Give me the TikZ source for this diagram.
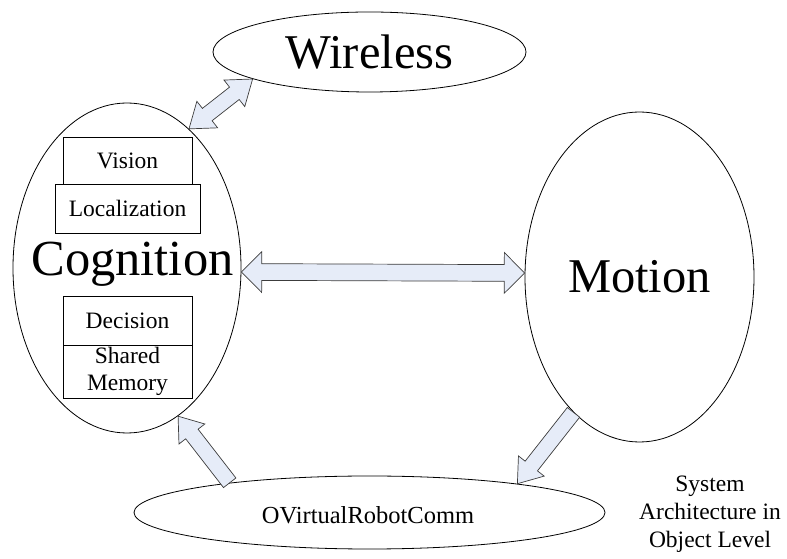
\documentclass[tikz,border=0pt]{standalone}
\usepackage{fontspec}
\setmainfont{Liberation Serif}
\usetikzlibrary{shapes.geometric,shapes.arrows,calc}
\definecolor{arrowfill}{HTML}{E6ECF8}
\definecolor{arrowline}{HTML}{3C3C3C}
\tikzset{
  blob/.style={draw,ellipse,line width=.8pt,inner sep=0pt},
  bigtext/.style={font=\fontsize{48.5}{50}\selectfont},
  part/.style={draw,line width=.8pt,minimum width=129pt,inner sep=0pt,align=center,font=\fontsize{23.5}{27}\selectfont},
  fat/.style={draw=arrowline,fill=arrowfill,line width=.7pt,inner xsep=0pt,outer sep=0pt,sloped,allow upside down},
}
\begin{document}
\begin{tikzpicture}[x=1pt,y=1pt]
\useasboundingbox (0,0) rectangle (787,559);
\node[blob,bigtext,minimum width=313pt,minimum height=80pt] (wls) at (369.5,507) {Wireless};
\node[blob,minimum width=228pt,minimum height=330pt] (cog) at (127,291) {};
\node[blob,bigtext,minimum width=229pt,minimum height=330pt] (mot) at (639.5,282) {Motion};
\node[blob,minimum width=471pt,minimum height=73pt] (orc) at (369.5,46.5) {};
\node[anchor=base,font=\fontsize{50.5}{52}\selectfont] (cogtxt) at (132.5,283) {Cognition};
\node[anchor=base,font=\fontsize{24.5}{27}\selectfont] (orctxt) at (368,35) {OVirtualRobotComm};
% parts of cognition
\node[part,minimum height=47pt] (vis) at (127.5,398.5) {Vision};
\node[part,minimum width=145pt,minimum height=49pt] (loc) at (127.5,350.5) {Localization};
\node[part,minimum height=49pt] (dec) at (127.5,238.5) {Decision};
\node[part,minimum height=53pt] (mem) at (127.5,187.5) {Shared\\Memory};
\node[anchor=base,align=center,font=\fontsize{23.5}{28}\selectfont] (cap) at (710,11) {System\\Architecture in\\Object Level};
% fat arrows
\path let \p1=($(mot.178)-(cog.-2)$), \n1={veclen(\x1,\y1)} in
  (cog.-2) -- node[fat,double arrow,minimum height=\n1,inner ysep=8pt,
  double arrow head extend=12pt,double arrow tip angle=90] {} (mot.178);
\path let \p1=($(wls.193)-(cog.66)$), \n1={veclen(\x1,\y1)} in
  (cog.66) -- node[fat,double arrow,minimum height=\n1,inner ysep=7.5pt,
  double arrow head extend=9pt,double arrow tip angle=72] {} (wls.193);
\path let \p1=($(cog.-71)-(orc.168)$), \n1={veclen(\x1,\y1)} in
  (orc.168) -- node[fat,single arrow,pos=0,anchor=tail,minimum height=\n1,inner ysep=7.5pt,
  single arrow head extend=8.5pt,single arrow tip angle=72] {} (cog.-71);
\path let \p1=($(orc.11)-(mot.244)$), \n1={veclen(\x1,\y1)} in
  (mot.244) -- node[fat,single arrow,pos=0,anchor=tail,minimum height=\n1,inner ysep=7.5pt,
  single arrow head extend=8.5pt,single arrow tip angle=72] {} (orc.11);
\end{tikzpicture}
\end{document}
